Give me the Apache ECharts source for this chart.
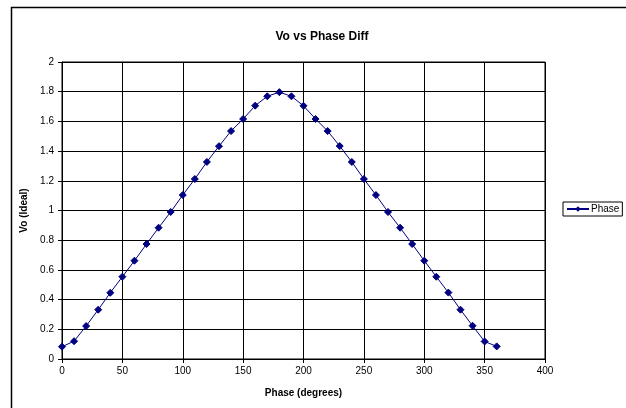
<!DOCTYPE html>
<html>
<head>
<meta charset="utf-8">
<script src="https://cdn.jsdelivr.net/npm/echarts@6/dist/echarts.min.js"></script>
<style>
  html, body { margin: 0; padding: 0; background: #fff; }
  #chart { width: 626px; height: 408px; }
</style>
</head>
<body>
<div id="chart"></div>
<script>
// phase angle in degrees
var phase = [0, 10, 20, 30, 40, 50, 60, 70, 80, 90, 100, 110, 120, 130, 140, 150, 160, 170, 180,
  190, 200, 210, 220, 230, 240, 250, 260, 270, 280, 290, 300, 310, 320, 330, 340, 350, 360]
// Vo (ideal)
var vo = [0.083, 0.12, 0.222, 0.332, 0.446, 0.554, 0.662, 0.774, 0.884, 0.99, 1.104, 1.212, 1.327, 1.433, 1.535, 1.616, 1.706, 1.769, 1.797,
  1.769, 1.705, 1.616, 1.535, 1.434, 1.327, 1.212, 1.104, 0.99, 0.884, 0.774, 0.662, 0.554, 0.447, 0.332, 0.224, 0.118, 0.085]
var seriesName = 'Phase'

var font = '"Liberation Sans", Arial, sans-serif'
var dom = echarts.init(document.getElementById('chart'))
var option = {
  backgroundColor: '#fff',
  animation: false,
  textStyle: { fontFamily: font },
  title: {
    text: 'Vo vs Phase Diff',
    left: 317,
    textAlign: 'center',
    top: 26,
    textStyle: { fontFamily: font, fontSize: 12, fontWeight: 'bold', color: '#000' }
  },
  graphic: [{
    type: 'rect',
    shape: { x: 11.5, y: 7.5, width: 700, height: 500 },
    style: { fill: 'none', stroke: '#000', lineWidth: 1.5 },
    silent: true
  }],
  legend: {
    data: [seriesName],
    left: 563,
    top: 202,
    orient: 'vertical',
    padding: [2, 3, 2, 3],
    borderColor: '#000',
    borderWidth: 1,
    itemWidth: 22,
    itemHeight: 7,
    itemGap: 2,
    textStyle: { fontFamily: font, fontSize: 10, color: '#000', padding: [0, 0, 0, -3] }
  },
  grid: {
    left: 62,
    right: 81,
    top: 62,
    bottom: 49,
    show: true,
    borderColor: '#000',
    borderWidth: 1
  },
  xAxis: {
    type: 'value',
    min: 0,
    max: 400,
    interval: 50,
    name: 'Phase (degrees)',
    nameLocation: 'middle',
    nameGap: 29,
    nameTextStyle: { fontFamily: font, fontSize: 10, fontWeight: 'bold', color: '#000' },
    axisLine: { lineStyle: { color: '#000', width: 1 } },
    axisTick: { show: true, length: 4, lineStyle: { color: '#000' } },
    axisLabel: { fontFamily: font, fontSize: 10, color: '#000', margin: 7 },
    splitLine: { show: true, lineStyle: { color: '#000', width: 1 } }
  },
  yAxis: {
    type: 'value',
    min: 0,
    max: 2,
    interval: 0.2,
    name: 'Vo (Ideal)',
    nameLocation: 'middle',
    nameGap: 27,
    nameTextStyle: { fontFamily: font, fontSize: 10, fontWeight: 'bold', color: '#000' },
    axisLine: { show: true, lineStyle: { color: '#000', width: 1 } },
    axisTick: { show: true, length: 4, lineStyle: { color: '#000' } },
    axisLabel: { fontFamily: font, fontSize: 10, color: '#000', margin: 8 },
    splitLine: { show: true, lineStyle: { color: '#000', width: 1 } }
  },
  series: [{
    name: seriesName,
    type: 'line',
    data: phase.map(function (p, i) { return [p, vo[i]] }),
    symbol: 'diamond',
    symbolSize: 7,
    showSymbol: true,
    lineStyle: { color: '#000080', width: 1 },
    itemStyle: { color: '#000080', borderColor: '#000080' }
  }]
}
dom.setOption(option)
window.addEventListener('resize', function () { dom.resize() })
</script>
</body>
</html>
